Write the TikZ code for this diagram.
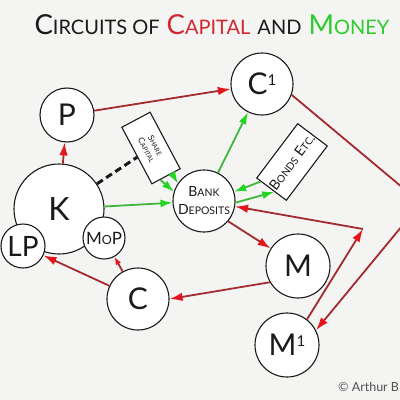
\documentclass[tikz,border=0pt]{standalone}
\usepackage{fontspec}
\setmainfont{Lato}
\usetikzlibrary{arrows.meta,calc}
\definecolor{ink}{HTML}{1A1A1A}
\definecolor{paper}{HTML}{F4F4F3}
\definecolor{wine}{HTML}{A32A2E}
\definecolor{scarlet}{HTML}{E3161E}
\definecolor{leaf}{HTML}{3DB83D}
\definecolor{lime}{HTML}{22D622}
\definecolor{titlered}{HTML}{D22630}
\definecolor{titlegreen}{HTML}{2FCC2F}
\def\smsz{10}
\newcommand{\sm}[1]{{\fontsize{\smsz}{\smsz}\selectfont #1}}
\newcommand{\supone}[2]{\raisebox{#1}{\fontsize{#2}{#2}\selectfont 1}}

\begin{document}
\begin{tikzpicture}[x=1pt,y=-1pt,
  circ/.style={circle,draw=ink,line width=1.1pt,fill=white,inner sep=0pt,text=ink},
  big/.style={circ,font=\fontsize{30}{30}\selectfont},
  tag/.style={draw=ink,line width=1.1pt,fill=white,inner sep=0pt,align=center,text=ink},
  redarr/.style={-{Latex[length=13pt,width=8.5pt,color=scarlet]},line width=1.8pt,draw=wine},
  greenarr/.style={-{Latex[length=12pt,width=8pt,color=lime]},line width=1.8pt,draw=leaf},
  dashline/.style={line width=3pt,draw=ink,dash pattern=on 7pt off 4pt}
]
\useasboundingbox (0,0) rectangle (400,400);
\fill[paper] (0,0) rectangle (400,400);
\clip (0,0) rectangle (400,400);

% title
\node[font={\fontsize{27.5}{27.5}\selectfont\def\smsz{20}},text=ink] (title) at (212,25)
  {C\sm{IRCUITS OF} \textcolor{titlered}{C\sm{APITAL}} \sm{AND} \textcolor{titlegreen}{M\sm{ONEY}}};

% circuit nodes
\node[big,minimum size=90pt,font=\fontsize{32}{32}\selectfont] (K) at (59,209) {K};
\node[big,minimum size=44pt,font=\fontsize{28}{28}\selectfont] (LP) at (23,246) {LP};
\node[circ,minimum size=42pt,font={\fontsize{17}{17}\selectfont\def\smsz{12.5}}] (MoP) at (104,238) {M\sm{O}P};
\node[big,minimum size=54pt] (P) at (67,115) {P};
\node[big,minimum size=62pt] (C1) at (262,84) {C\supone{9pt}{15}};
\node[big,minimum size=62pt] (C) at (138,299) {C};
\node[big,minimum size=64pt] (M) at (298,266) {M};
\node[big,minimum size=64pt] (M1) at (287,345) {M\supone{9pt}{15}};
\node[circ,minimum size=62pt,align=center,font={\fontsize{14}{18}\selectfont\def\smsz{10.5}}] (bank) at (204,201) {B\sm{ANK}\\D\sm{EPOSITS}};
\node[tag,minimum width=64pt,minimum height=32pt,rotate=-62,font={\fontsize{8.5}{10}\selectfont\def\smsz{6.5}}] (share) at (151,148) {S\sm{HARE}\\C\sm{APITAL}};
\node[tag,minimum width=68pt,minimum height=37pt,rotate=53,font={\fontsize{14}{14}\selectfont\def\smsz{10.2}}] (bonds) at (292,162) {B\sm{ONDS} E\sm{TC}.};
\coordinate (turnR) at (421,203);
\coordinate (turnM) at (363,229);

% red flows
\draw[redarr] (K) -- (P);
\draw[redarr] (P) -- (C1);
\draw[redarr] (C1.-20) -- (turnR) -- (M1.27);
\draw[redarr] (M1.52) -- (turnM);
\draw[redarr] (turnM) -- (bank);
\draw[redarr] (bank.-40) -- (M);
\draw[redarr] (M.210) -- (C.0);
\draw[redarr] (C) -- (LP);
\draw[redarr,-{Latex[length=8pt,width=6pt,color=scarlet]}] (C) -- (MoP);

% green flows
\draw[greenarr] (bank) -- (C1);
\draw[greenarr] (K) -- (bank);
\draw[greenarr] ($(share.south east)!0.3!(share.north east)$) -- (bank.163);
\draw[greenarr] ($(share.south east)!0.7!(share.north east)$) -- (bank.146);
\draw[greenarr] ($(bonds.north west)!0.15!(bonds.south west)$) -- (bank.17);
\draw[greenarr] (bank.-3) -- ($(bonds.north west)!0.6!(bonds.south west)$);
\draw[dashline] (K) -- (share);

\node[anchor=base west,font=\fontsize{12.5}{12.5}\selectfont,text=ink!75,inner sep=0pt] (credit) at (338,391) {© Arthur B};
\end{tikzpicture}
\end{document}
